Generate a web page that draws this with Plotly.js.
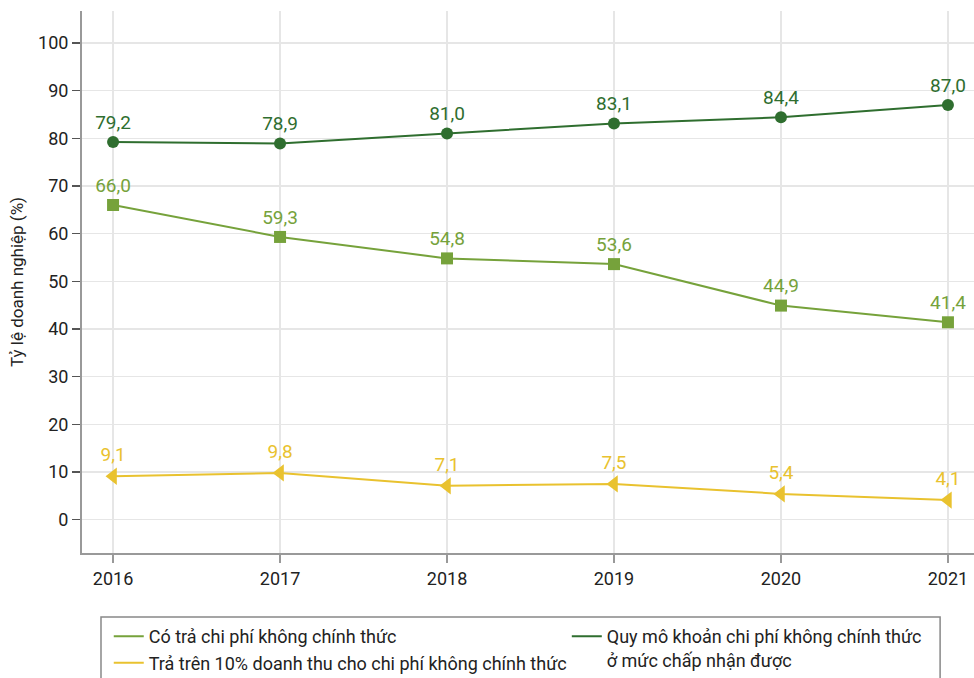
<!DOCTYPE html>
<html>
<head>
<meta charset="utf-8">
<script src="https://cdn.plot.ly/plotly-3.0.1.min.js"></script>
<style>html,body{margin:0;padding:0;background:#fff;}#chart{width:974px;height:678px;}</style>
</head>
<body>
<div id="chart"></div>
<script>
const years = [2016, 2017, 2018, 2019, 2020, 2021];
const acceptable = [79.2, 78.9, 81.0, 83.1, 84.4, 87.0];
const informalPay = [66.0, 59.3, 54.8, 53.6, 44.9, 41.4];
const over10pct = [9.1, 9.8, 7.1, 7.5, 5.4, 4.1];
const yTicks = [0, 10, 20, 30, 40, 50, 60, 70, 80, 90, 100];

const nameAcceptable = 'Quy mô khoản chi phí không chính thức<br>ở mức chấp nhận được';
const nameInformal = 'Có trả chi phí không chính thức';
const nameOver10 = 'Trả trên 10% doanh thu cho chi phí không chính thức';

const cDark = '#2f6e2f', cLight = '#76a23b', cYellow = '#e9c22f';
const FONT = 'Roboto, "Liberation Sans", sans-serif';
const fmt = v => v.toFixed(1).replace('.', ',');

function series(y, color, symbol, size) {
  return {
    x: years, y: y, type: 'scatter', mode: 'lines+markers+text',
    line: {color: color, width: 2},
    marker: {color: color, symbol: symbol, size: size},
    text: y.map(fmt), textposition: 'top center',
    textfont: {color: color, size: 19, family: FONT},
    showlegend: false, hoverinfo: 'x+y', cliponaxis: false
  };
}
function legendItem(name, color, legend) {
  return {x: [null], y: [null], type: 'scatter', mode: 'lines', name: name,
    line: {color: color, width: 2}, legend: legend, showlegend: true};
}

const data = [
  series(acceptable, cDark, 'circle', 12),
  series(informalPay, cLight, 'square', 12),
  series(over10pct, cYellow, 'triangle-left', 15),
  legendItem(nameInformal, cLight, 'legend'),
  legendItem(nameOver10, cYellow, 'legend'),
  legendItem(nameAcceptable, cDark, 'legend2')
];

const legendCommon = {orientation: 'v', bgcolor: 'rgba(0,0,0,0)', borderwidth: 0,
  font: {family: FONT, size: 18, color: '#222'}, itemwidth: 30, tracegroupgap: 0,
  xanchor: 'left', yanchor: 'top', valign: 'top', itemclick: false, itemdoubleclick: false};

const layout = {
  width: 974, height: 678,
  margin: {l: 82, r: 0, t: 11, b: 125, autoexpand: false},
  paper_bgcolor: '#fff', plot_bgcolor: '#fff',
  font: {family: FONT, size: 18, color: '#222'},
  xaxis: {
    range: [2015.814, 2021.156], tickvals: years, ticktext: years.map(String),
    showgrid: true, gridcolor: '#e6e6e6', gridwidth: 1.5,
    showline: true, linecolor: '#999', linewidth: 2,
    ticks: 'outside', ticklen: 8, tickcolor: '#999', tickwidth: 1.5,
    tickfont: {family: FONT, size: 18, color: '#222'}, zeroline: false, fixedrange: true
  },
  yaxis: {
    range: [-7, 106.7], tickvals: yTicks,
    showgrid: true, gridcolor: '#e6e6e6', gridwidth: 1.5,
    showline: true, linecolor: '#999', linewidth: 2,
    ticks: 'outside', ticklen: 8, tickcolor: '#555', tickwidth: 1.5,
    tickfont: {family: FONT, size: 18, color: '#222'}, zeroline: false, fixedrange: true,
    title: {text: 'Tỷ lệ doanh nghiệp (%)', font: {family: FONT, size: 17, color: '#222'}, standoff: 10}
  },
  legend: Object.assign({}, legendCommon, {x: 0.03, y: -0.12}),
  legend2: Object.assign({}, legendCommon, {x: 0.5435, y: -0.12}),
  shapes: [{type: 'rect', xref: 'paper', yref: 'paper', x0: 0.0213, x1: 0.962, y0: -0.118, y1: -0.26,
    line: {color: '#888', width: 1.5}, fillcolor: 'rgba(0,0,0,0)', layer: 'below'}]
};

Plotly.newPlot('chart', data, layout, {displayModeBar: false, staticPlot: true});
</script>
</body>
</html>
